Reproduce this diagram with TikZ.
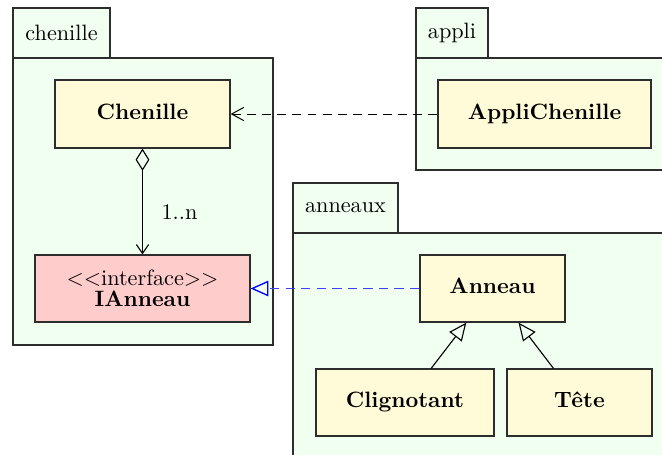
\documentclass[tikz,border=0pt]{standalone}
\usetikzlibrary{arrows.meta}
\definecolor{pkgfill}{RGB}{241,255,241}
\definecolor{classfill}{RGB}{255,250,215}
\definecolor{ifacefill}{RGB}{255,204,204}
\definecolor{edge}{RGB}{45,45,45}
\begin{document}
\begin{tikzpicture}[x=0.45pt,y=-0.45pt,
  sz/.style 2 args={minimum width=#1*0.45pt,minimum height=#2*0.45pt,inner sep=0pt},
  pkg/.style={draw=edge,fill=pkgfill,line width=0.55pt,rectangle},
  cls/.style={draw=edge,fill=classfill,line width=0.55pt,rectangle,font=\bfseries,
    text height=1.6ex,text depth=0.5ex},
  iface/.style={draw=edge,fill=ifacefill,line width=0.55pt,rectangle,align=center},
  dep/.style={dash pattern=on 4pt off 2.8pt,line width=0.45pt,
    -{Straight Barb[length=5.5pt,width=6pt]}},
  realize/.style={blue!75,dash pattern=on 4.2pt off 2.8pt,line width=0.6pt,
    -{Triangle[open,length=8pt,width=7pt,color=blue]}},
  inherit/.style={line width=0.5pt,-{Triangle[open,length=8pt,width=7pt]}},
  aggr/.style={line width=0.5pt,
    {Diamond[open,length=10pt,width=6.2pt]}-{Straight Barb[length=4pt,width=5.5pt]}}]
\useasboundingbox (0,0) rectangle (662,454);
\clip (0,0) rectangle (662,454);

% package chenille
\node[pkg,sz={97}{50}] (tabchen) at (61.5,33) {chenille};
\node[pkg,sz={260}{287}] (pkgchen) at (143,201.5) {};
% package appli
\node[pkg,sz={72}{50}] (tabappli) at (452,33) {appli};
\node[pkg,sz={264}{112}] (pkgappli) at (548,114) {};
% package anneaux
\node[pkg,sz={105}{50}] (tabann) at (345.5,208) {anneaux};
\node[pkg,sz={387}{247}] (pkgann) at (486.5,356.5) {};

% classes
\node[cls,sz={175}{68}] (chen) at (142.5,114) {Chenille};
\node[iface,sz={215}{67}] (ianneau) at (142.5,288.5)
  {$<<$interface$>>$\\[-2.5pt]\textbf{IAnneau}};
\node[cls,sz={213}{68}] (appli) at (544.5,114) {AppliChenille};
\node[cls,sz={145}{67}] (anneau) at (492.5,288.5) {Anneau};
\node[cls,sz={178}{67}] (clig) at (405,402.5) {Clignotant};
\node[cls,sz={145}{67}] (tete) at (579.5,402.5) {Tête};

% relations
\draw[dep] (appli) -- (chen);
\draw[aggr] (chen) -- node[right=5pt,pos=0.6] {1..n} (ianneau);
\draw[realize] (anneau) -- (ianneau);
\draw[inherit] (clig) -- (anneau);
\draw[inherit] (tete) -- (anneau);
\end{tikzpicture}
\end{document}
